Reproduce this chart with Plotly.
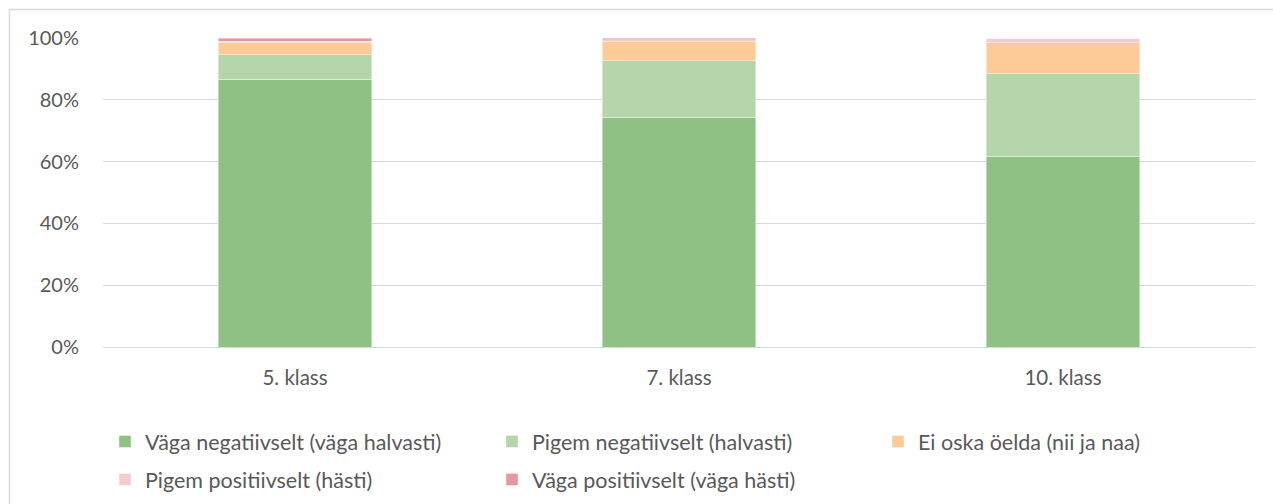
import plotly.graph_objects as go

categories = ["5. klass", "7. klass", "10. klass"]
series_names = [
    "Väga negatiivselt (väga halvasti)",
    "Pigem negatiivselt (halvasti)",
    "Ei oska öelda (nii ja naa)",
    "Pigem positiivselt (hästi)",
    "Väga positiivselt (väga hästi)",
]
vaga_negatiivselt = [0.867, 0.744, 0.618]
pigem_negatiivselt = [0.079, 0.182, 0.267]
ei_oska = [0.038, 0.062, 0.100]
pigem_positiivselt = [0.005, 0.006, 0.015]
vaga_positiivselt = [0.011, 0.006, 0.000]
colors = ["#8fc184", "#b5d6ab", "#fccb98", "#f4cbcf", "#e6979e"]
tick_vals = [0, 0.2, 0.4, 0.6, 0.8, 1.0]
tick_text = ["0%", "20%", "40%", "60%", "80%", "100%"]

W, H = 1273, 504
L, R, T, B = 103, 18, 38, 157
pw = W - L - R

values = [vaga_negatiivselt, pigem_negatiivselt, ei_oska, pigem_positiivselt, vaga_positiivselt]
legend_ids = ["legend", "legend2", "legend3", "legend", "legend2"]

fig = go.Figure()
for i, (name, vals, col, lg) in enumerate(zip(series_names, values, colors, legend_ids)):
    fig.add_trace(go.Bar(
        x=categories, y=vals, name=name, legend=lg, legendgroup=f"g{i}",
        marker=dict(color=col, line=dict(color="rgba(255,255,255,0.6)", width=0.7)),
    ))

font_family = "Lato, 'Noto Sans', sans-serif"
txt_col = "#595959"

def px_x(p):
    return (p - L) / pw

def px_y(p):
    return (H - B - p) / (H - T - B)

legend_common = dict(
    orientation="v", yanchor="top", xanchor="left",
    font=dict(family=font_family, size=21.5, color=txt_col),
    bgcolor="rgba(0,0,0,0)", itemwidth=30, tracegroupgap=7,
    traceorder="grouped", borderwidth=0,
    itemclick=False, itemdoubleclick=False,
)

fig.update_layout(
    width=W, height=H, autosize=False,
    margin=dict(l=L, r=R, t=T, b=B, pad=0, autoexpand=False),
    paper_bgcolor="white", plot_bgcolor="white",
    barmode="stack", bargap=0.6,
    font=dict(family=font_family, size=20, color=txt_col),
    showlegend=True,
    legend=dict(x=px_x(105), y=px_y(421), **legend_common),
    legend2=dict(x=px_x(492), y=px_y(421), **legend_common),
    legend3=dict(x=px_x(878), y=px_y(421), **legend_common),
    xaxis=dict(
        showgrid=False, showline=False, zeroline=False, ticks="",
        tickfont=dict(family=font_family, size=20.5, color=txt_col),
        ticklabelstandoff=16,
    ),
    yaxis=dict(
        range=[0, 1], tickvals=tick_vals, ticktext=tick_text,
        showgrid=True, gridcolor="#d9d9d9", gridwidth=1,
        zeroline=True, zerolinecolor="#d9d9d9", zerolinewidth=1,
        showline=False, ticks="",
        tickfont=dict(family=font_family, size=20, color=txt_col),
        ticklabelstandoff=23,
    ),
    shapes=[dict(
        type="rect", xref="paper", yref="paper",
        x0=px_x(9.5), x1=px_x(1290), y0=px_y(9.5), y1=px_y(520),
        line=dict(color="#d9d9d9", width=1.5), fillcolor="rgba(0,0,0,0)", layer="below",
    )],
)

fig.write_html(
    "out.html",
    config={"displayModeBar": False},
    post_script="document.body.style.margin='0';document.body.style.overflow='hidden';",
)
